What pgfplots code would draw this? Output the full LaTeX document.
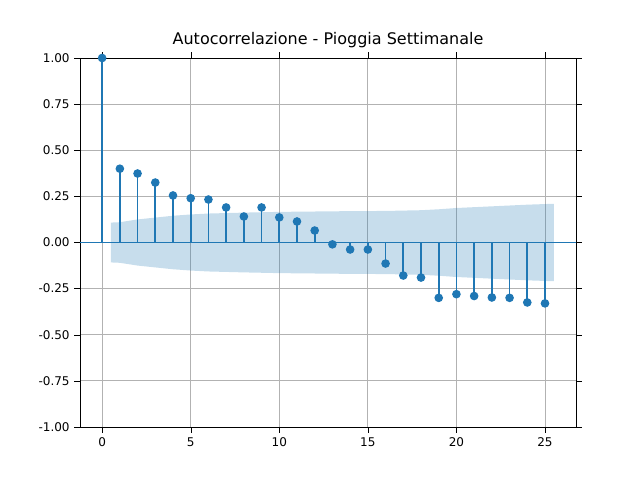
\documentclass[border=0pt]{standalone}
\usepackage{pgfplots}
\pgfplotsset{compat=1.18}
\usepackage{fontspec}
\setmainfont{DejaVu Sans}
\definecolor{c0}{HTML}{1F77B4}
\begin{document}
\begin{tikzpicture}
\useasboundingbox (-60pt,-39.75pt) rectangle (420pt,320.25pt);
\begin{axis}[
  at={(0,0)}, anchor=south west,
  scale only axis, width=372pt, height=276.75pt,
  xmin=-1.25, xmax=26.75, ymin=-1, ymax=1,
  xtick={0,5,10,15,20,25},
  ytick={-1,-0.75,-0.5,-0.25,0,0.25,0.5,0.75,1},
  yticklabel style={/pgf/number format/.cd,fixed,fixed zerofill,precision=2},
  /pgf/number format/assume math mode=true,
  grid=major, grid style={gray!60, line width=0.6pt},
  tick style={black}, tick align=outside,
  ticklabel style={font=\small},
  title={Autocorrelazione - Pioggia Settimanale},
  title style={font=\large, yshift=-2pt},
  clip=false,
]
\addplot[fill=c0, fill opacity=0.25, draw=none] coordinates {
(0.5,0.108)(1,0.11)(2,0.125)(3,0.135)(4,0.145)(5,0.152)(6,0.157)(8,0.162)(10,0.166)(12,0.168)(14,0.170)(16,0.171)(18,0.175)(19,0.180)(20,0.187)(22,0.196)(24,0.205)(25.5,0.21)
(25.5,-0.21)(24,-0.205)(22,-0.196)(20,-0.187)(19,-0.180)(18,-0.175)(16,-0.171)(14,-0.170)(12,-0.168)(10,-0.166)(8,-0.162)(6,-0.157)(5,-0.152)(4,-0.145)(3,-0.135)(2,-0.125)(1,-0.11)(0.5,-0.108)} -- cycle;
\addplot[c0, line width=1.2pt] coordinates {(-1.25,0)(26.75,0)};
\addplot[c0, ycomb, line width=1.2pt, mark=*, mark size=2.6pt, mark options={fill=c0}] coordinates {
(0,1.0)(1,0.40)(2,0.374)(3,0.325)(4,0.255)(5,0.24)(6,0.233)(7,0.19)(8,0.141)(9,0.19)(10,0.136)(11,0.114)(12,0.065)(13,-0.01)(14,-0.038)(15,-0.038)(16,-0.114)(17,-0.179)(18,-0.19)(19,-0.30)(20,-0.28)(21,-0.29)(22,-0.298)(23,-0.30)(24,-0.325)(25,-0.33)};
\end{axis}
\end{tikzpicture}
\end{document}
